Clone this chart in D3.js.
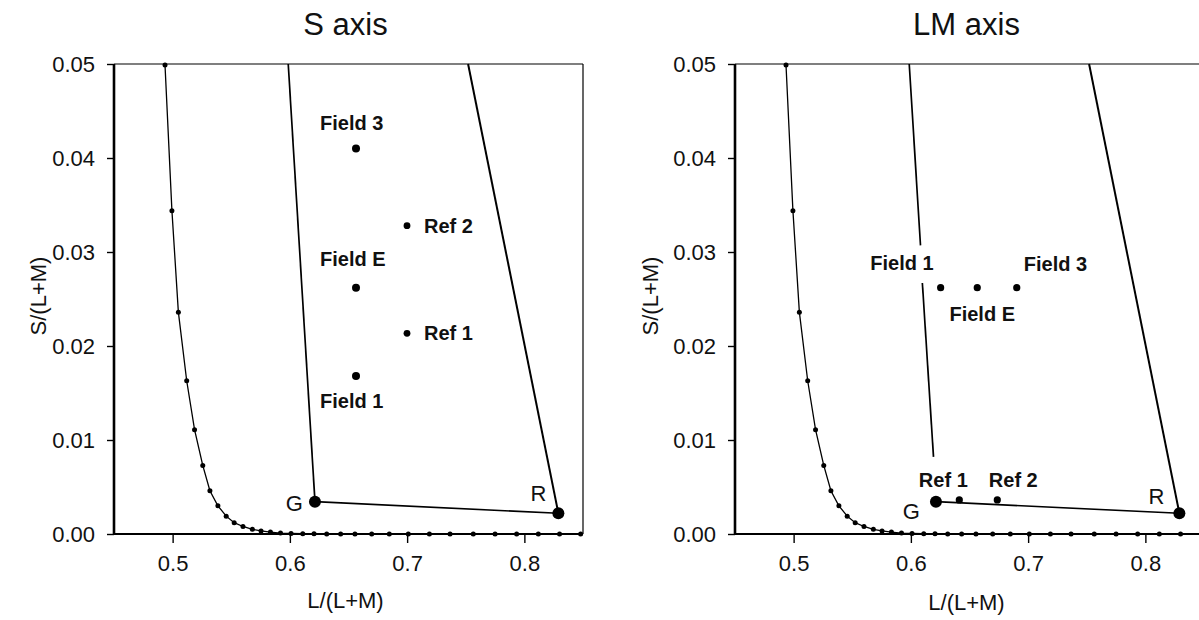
<!DOCTYPE html>
<html>
<head>
<meta charset="utf-8">
<script src="https://cdn.jsdelivr.net/npm/d3@7"></script>
<style>
  html, body { margin: 0; padding: 0; background: #fff; }
  svg { display: block; font-family: "Liberation Sans", Arial, sans-serif; }
</style>
</head>
<body>
<svg id="chart" width="1199" height="620"></svg>
<script>
// ---------------- data ----------------
const xTicks = [0.5, 0.6, 0.7, 0.8];
const yTicks = [0.00, 0.01, 0.02, 0.03, 0.04, 0.05];
const xDomain = [0.45, 0.85];
const yDomain = [0, 0.05];

// spectrum locus (MacLeod-Boynton)
const locusX = [0.4935, 0.4994, 0.5049, 0.5120, 0.5187, 0.5257, 0.5318, 0.5386, 0.5457, 0.5525,
                0.5600, 0.5680, 0.5754, 0.5834, 0.5920, 0.6010, 0.6110, 0.6206, 0.6314, 0.6433,
                0.6555, 0.6698, 0.6848, 0.7010, 0.7190, 0.7366, 0.7564, 0.7750, 0.7934, 0.8119,
                0.8300, 0.8480];
const locusY = [0.0499, 0.0344, 0.0236, 0.0163, 0.0111, 0.0073, 0.0046, 0.0030, 0.0019, 0.0012,
                0.0008, 0.0005, 0.00033, 0.0002, 0.0001, 0.00006, 0.00003, 0.00002, 0.00001, 0,
                0, 0, 0, 0, 0, 0, 0, 0, 0, 0,
                0, 0];

// primaries
const primaryNames = ["G", "R"];
const primaryX = [0.6214, 0.8290];
const primaryY = [0.00344, 0.0022];
// top ends of the lines through G and R
const lineTopX = [0.5986, 0.7520];
const lineTopY = [0.05, 0.05];

// S axis panel
const sFieldNames = ["Field 1", "Field E", "Field 3"];
const sFieldX = [0.6564, 0.6564, 0.6564];
const sFieldY = [0.0168, 0.0262, 0.0410];
const sRefNames = ["Ref 1", "Ref 2"];
const sRefX = [0.6999, 0.6999];
const sRefY = [0.02135, 0.0328];

// LM axis panel
const lmFieldNames = ["Field 1", "Field E", "Field 3"];
const lmFieldX = [0.6254, 0.6566, 0.6903];
const lmFieldY = [0.0262, 0.0262, 0.0262];
const lmRefNames = ["Ref 1", "Ref 2"];
const lmRefX = [0.6413, 0.6737];
const lmRefY = [0.00362, 0.00362];
// broken line through G (LM panel): two segments
const lmGLineUpperX = [0.5986, 0.6082];
const lmGLineUpperY = [0.05, 0.0307];
const lmGLineLowerX = [0.6098, 0.6193];
const lmGLineLowerY = [0.0267, 0.0082];

// ---------------- drawing ----------------
const svg = d3.select("#chart");
const W = 469, H = 470, TOP = 64;

function zip(xs, ys) { return xs.map((x, i) => [x, ys[i]]); }

function panel(cfg) {
  const g = svg.append("g").attr("transform", `translate(${cfg.left},${TOP})`);
  const x = d3.scaleLinear().domain(xDomain).range([0, W]);
  const y = d3.scaleLinear().domain(yDomain).range([H, 0]);
  const line = d3.line().x(d => x(d[0])).y(d => y(d[1]));

  // title
  svg.append("text").attr("x", cfg.left + W / 2 - 3).attr("y", 35)
    .attr("text-anchor", "middle").attr("font-size", 31).attr("fill", "#111")
    .text(cfg.title);

  // frame
  g.append("line").attr("x1", 0).attr("x2", W).attr("y1", 0).attr("y2", 0)
    .attr("stroke", "#000").attr("stroke-width", 1.2);
  g.append("line").attr("x1", W).attr("x2", W).attr("y1", 0).attr("y2", H)
    .attr("stroke", "#000").attr("stroke-width", 1.2);

  // axes
  const ya = g.append("g").call(d3.axisLeft(y).tickValues(yTicks).tickFormat(d3.format(".2f"))
      .tickSize(7).tickPadding(12));
  ya.select(".domain").remove();
  ya.selectAll("line").attr("stroke-width", 1.4);
  ya.selectAll("text").attr("font-size", 22).attr("fill", "#111").attr("font-family", null);

  const xa = g.append("g").attr("transform", `translate(0,${H})`)
    .call(d3.axisBottom(x).tickValues(xTicks).tickFormat(d3.format(".1f"))
      .tickSize(9).tickPadding(12));
  xa.select(".domain").remove();
  xa.selectAll("line").attr("stroke-width", 1.4);
  xa.selectAll("text").attr("font-size", 22).attr("fill", "#111").attr("font-family", null);

  g.append("line").attr("x1", 0).attr("x2", 0).attr("y1", 0).attr("y2", H)
    .attr("stroke", "#000").attr("stroke-width", 2.6);
  g.append("line").attr("x1", -1).attr("x2", W).attr("y1", H).attr("y2", H)
    .attr("stroke", "#000").attr("stroke-width", 2);

  // axis titles
  g.append("text").attr("x", W / 2 - 3).attr("y", H + cfg.xLabelDy)
    .attr("text-anchor", "middle").attr("font-size", 22).attr("fill", "#111")
    .text("L/(L+M)");
  g.append("text").attr("transform", `translate(${-cfg.yLabelDx},${H / 2 - 3}) rotate(-90)`)
    .attr("text-anchor", "middle").attr("font-size", 22).attr("fill", "#111")
    .text("S/(L+M)");

  // spectrum locus
  const locus = zip(locusX, locusY);
  g.append("path").datum(locus).attr("d", line)
    .attr("fill", "none").attr("stroke", "#000").attr("stroke-width", 1.3);
  g.selectAll(".ldot").data(locus).join("circle")
    .attr("cx", d => x(d[0])).attr("cy", d => y(d[1])).attr("r", 2.5).attr("fill", "#000");

  // lines through primaries
  const prim = zip(primaryX, primaryY);
  g.append("path").datum(prim).attr("d", line)
    .attr("fill", "none").attr("stroke", "#000").attr("stroke-width", 1.6);
  if (cfg.gLineSegments) {
    cfg.gLineSegments.forEach(seg => {
      g.append("path").datum(seg).attr("d", line)
        .attr("fill", "none").attr("stroke", "#000").attr("stroke-width", 1.7);
    });
  } else {
    g.append("path").datum([prim[0], [lineTopX[0], lineTopY[0]]]).attr("d", line)
      .attr("fill", "none").attr("stroke", "#000").attr("stroke-width", 1.7);
  }
  g.append("path").datum([prim[1], [lineTopX[1], lineTopY[1]]]).attr("d", line)
    .attr("fill", "none").attr("stroke", "#000").attr("stroke-width", 2);

  g.selectAll(".pdot").data(prim).join("circle")
    .attr("cx", d => x(d[0])).attr("cy", d => y(d[1])).attr("r", 6).attr("fill", "#000");
  primaryNames.forEach((n, i) => {
    const o = cfg.primaryLabel[i];
    g.append("text").attr("x", x(primaryX[i]) + o[0]).attr("y", y(primaryY[i]) + o[1])
      .attr("text-anchor", o[2]).attr("font-size", 22).attr("fill", "#111").text(n);
  });

  // fields
  const fields = zip(cfg.fieldX, cfg.fieldY);
  g.selectAll(".fdot").data(fields).join("circle")
    .attr("cx", d => x(d[0])).attr("cy", d => y(d[1])).attr("r", cfg.fieldR).attr("fill", "#000");
  cfg.fieldNames.forEach((n, i) => {
    const o = cfg.fieldLabel[i];
    g.append("text").attr("x", x(cfg.fieldX[i]) + o[0]).attr("y", y(cfg.fieldY[i]) + o[1])
      .attr("text-anchor", o[2]).attr("font-size", 20).attr("font-weight", "bold")
      .attr("fill", "#111").text(n);
  });

  const refs = zip(cfg.refX, cfg.refY);
  g.selectAll(".rdot").data(refs).join("circle")
    .attr("cx", d => x(d[0])).attr("cy", d => y(d[1])).attr("r", cfg.refR).attr("fill", "#000");
  cfg.refNames.forEach((n, i) => {
    const o = cfg.refLabel[i];
    g.append("text").attr("x", x(cfg.refX[i]) + o[0]).attr("y", y(cfg.refY[i]) + o[1])
      .attr("text-anchor", o[2]).attr("font-size", 20).attr("font-weight", "bold")
      .attr("fill", "#111").text(n);
  });
}

panel({
  left: 114, title: "S axis", xLabelDy: 74, yLabelDx: 68,
  primaryLabel: [[-12, 9, "end"], [-12, -12, "end"]],
  fieldNames: sFieldNames, fieldX: sFieldX, fieldY: sFieldY, fieldR: 4,
  fieldLabel: [[-36, 32, "start"], [-36, -22, "start"], [-36, -19, "start"]],
  refNames: sRefNames, refX: sRefX, refY: sRefY, refR: 3.4,
  refLabel: [[17, 7, "start"], [17, 7, "start"]]
});

panel({
  left: 735, title: "LM axis", xLabelDy: 76, yLabelDx: 77,
  gLineSegments: [zip(lmGLineUpperX, lmGLineUpperY), zip(lmGLineLowerX, lmGLineLowerY)],
  primaryLabel: [[-16, 17, "end"], [-15, -9, "end"]],
  fieldNames: lmFieldNames, fieldX: lmFieldX, fieldY: lmFieldY, fieldR: 3.6,
  fieldLabel: [[-7, -18, "end"], [5, 33, "middle"], [7, -17, "start"]],
  refNames: lmRefNames, refX: lmRefX, refY: lmRefY, refR: 3.6,
  refLabel: [[-16, -13, "middle"], [16, -13, "middle"]]
});
</script>
</body>
</html>
